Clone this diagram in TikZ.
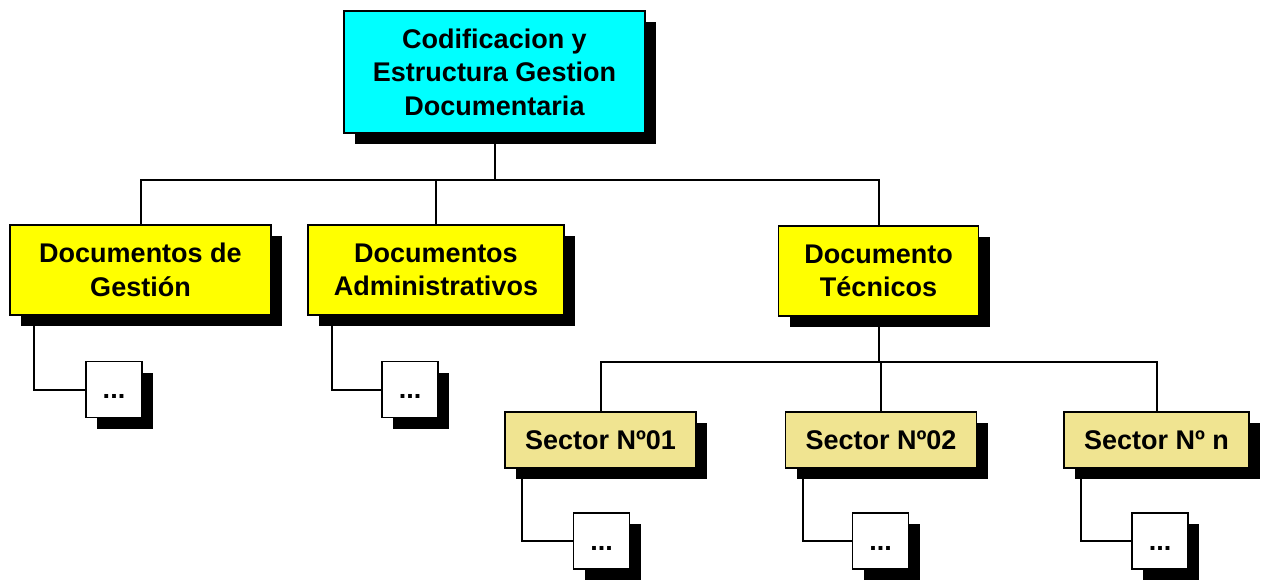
\documentclass[tikz,border=0pt]{standalone}
\usepackage{fontspec}
\setmainfont{Liberation Sans}
\usetikzlibrary{shadows}
\definecolor{rootcyan}{RGB}{0,255,255}
\definecolor{docyellow}{RGB}{255,255,0}
\definecolor{seckhaki}{RGB}{240,228,145}
\begin{document}
\begin{tikzpicture}[
  x=1pt, y=-1pt,
  orgbox/.style={rectangle, draw=black, line width=1.8pt, inner sep=0pt, align=center,
    font={\fontsize{27}{33.5}\selectfont\bfseries},
    drop shadow={shadow xshift=11pt, shadow yshift=-11pt, fill=black, opacity=1}},
  orgroot/.style={orgbox, fill=rootcyan, minimum width=301pt, minimum height=122pt},
  orgdoc/.style={orgbox, fill=docyellow, minimum height=90pt},
  orgsec/.style={orgbox, fill=seckhaki, minimum height=56pt},
  orgleaf/.style={orgbox, fill=white, minimum width=56pt, minimum height=56pt, text height=24pt, text depth=6pt},
  orgedge/.style={draw=black, line width=2pt}
]
\useasboundingbox (0,0) rectangle (1261,579);
\node[orgroot] (n1) at (494.5,72) {Codificacion y\\Estructura Gestion\\Documentaria};
\node[orgdoc, minimum width=261pt] (n2) at (140.5,270) {Documentos de\\Gestión};
\node[orgdoc, minimum width=256pt] (n3) at (436,270) {Documentos\\Administrativos};
\node[orgdoc, minimum width=200pt] (n4) at (878.5,271) {Documento\\Técnicos};
\node[orgsec, minimum width=191pt] (n5) at (600.5,440) {Sector Nº01};
\node[orgsec, minimum width=191pt] (n6) at (881,440) {Sector Nº02};
\node[orgsec, minimum width=185pt] (n7) at (1156.5,440) {Sector Nº n};
\node[orgleaf] (n8) at (114,389.5) {...};
\node[orgleaf] (n9) at (410,389.5) {...};
\node[orgleaf] (n10) at (601.5,541) {...};
\node[orgleaf] (n11) at (880.5,541) {...};
\node[orgleaf] (n12) at (1160,541) {...};
\coordinate (b1) at (0,180);
\coordinate (b2) at (0,362);
\draw[orgedge] (n1.south) -- (n1.south |- b1) -| (n2.north);
\draw[orgedge] (n1.south |- b1) -| (n3.north);
\draw[orgedge] (n1.south |- b1) -| (n4.north);
\draw[orgedge] (n4.south) -- (n4.south |- b2) -| (n5.north);
\draw[orgedge] (n4.south |- b2) -| (n6.north);
\draw[orgedge] (n4.south |- b2) -| (n7.north);
\draw[orgedge] ([xshift=25pt]n2.south west) |- (n8.west);
\draw[orgedge] ([xshift=25pt]n3.south west) |- (n9.west);
\draw[orgedge] ([xshift=18pt]n5.south west) |- (n10.west);
\draw[orgedge] ([xshift=18pt]n6.south west) |- (n11.west);
\draw[orgedge] ([xshift=18pt]n7.south west) |- (n12.west);
\end{tikzpicture}
\end{document}
